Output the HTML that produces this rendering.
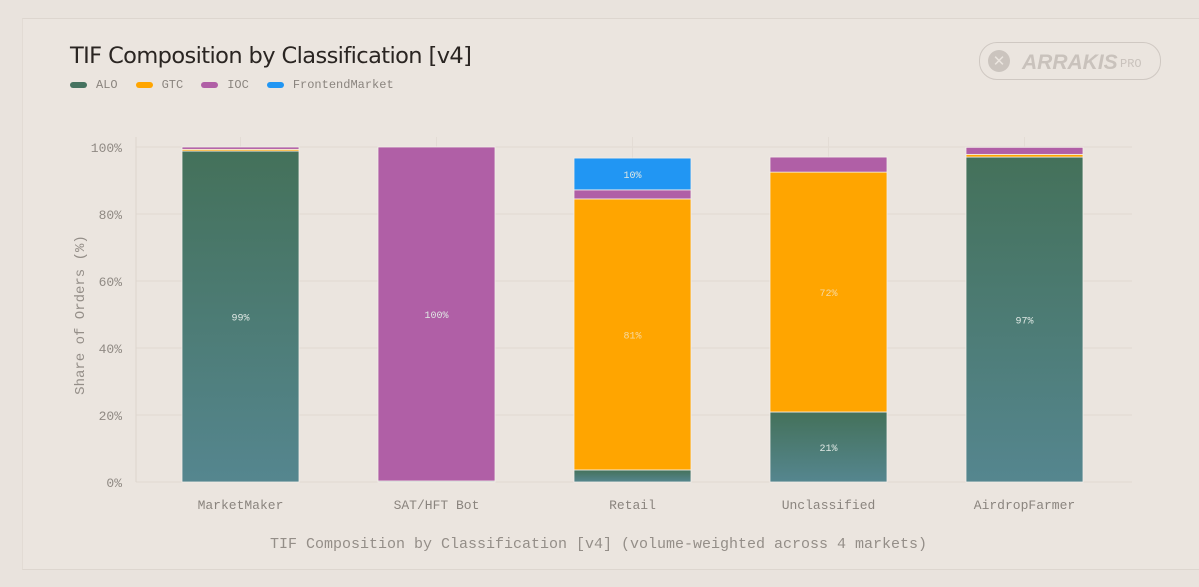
<!DOCTYPE html>
<html><head><meta charset="utf-8"><style>
html,body{margin:0;padding:0;background:#e9e3dd;width:1199px;height:587px;overflow:hidden}
.card{position:absolute;left:22px;top:18px;width:1200px;height:550px;border-top:1px solid #ddd6cf;border-left:1px solid #e2dbd4;border-bottom:1px solid #ddd6cf;background:#ebe5df}
.title{position:absolute;left:70px;top:43px;font:22.5px "DejaVu Sans","Liberation Sans",sans-serif;color:#2a2522;letter-spacing:-0.6px}
.legend{position:absolute;left:70px;top:78px;font:12px "Liberation Mono",monospace;color:#8a847e;display:flex;gap:18px}
.legend span{display:flex;align-items:center;gap:9px}
.legend i{display:inline-block;width:17px;height:6px;border-radius:3px}
.logo{position:absolute;left:979px;top:42px;width:180px;height:36px;border:1px solid #cfc8c2;border-radius:18px}
</style></head><body>
<div class="card"></div>
<div class="title">TIF Composition by Classification [v4]</div>
<div class="legend">
<span><i style="background:#467360"></i>ALO</span>
<span><i style="background:#ffa500"></i>GTC</span>
<span><i style="background:#b05fa6"></i>IOC</span>
<span><i style="background:#2196f3"></i>FrontendMarket</span>
</div>
<div class="logo">
<svg width="180" height="36"><circle cx="19" cy="18" r="11" fill="#cbc4be"/><text x="19" y="23" text-anchor="middle" font-family="Liberation Sans" font-size="15" fill="#ebe5df">✕</text>
<text x="42" y="26" font-family="Liberation Sans" font-weight="bold" font-style="italic" font-size="21" fill="#c9c2bc">ARRAKIS</text>
<text x="140" y="24" font-family="Liberation Mono" font-size="12" fill="#c9c2bc">PRO</text></svg>
</div>
<svg id="chart" width="1199" height="587" style="position:absolute;left:0;top:0">
<defs><linearGradient id="aloGrad" x1="0" y1="0" x2="0" y2="1"><stop offset="0" stop-color="#44715a"/><stop offset="1" stop-color="#55868f"/></linearGradient></defs>
</svg>
<script>
const categories=["MarketMaker","SAT/HFT Bot","Retail","Unclassified","AirdropFarmer"];
const alo=[98.8,0.3,3.6,20.9,97.0];
const gtc=[0.5,0,80.9,71.6,0.8];
const ioc=[0.7,99.7,2.7,4.5,2.1];
const fe=[0,0,9.5,0,0];
const yTicks=[0,20,40,60,80,100];
const ns="http://www.w3.org/2000/svg";
const svg=document.getElementById("chart");
const px0=136,px1=1132;
const x0=142.5,x1=1122.5,y0=482,y1=147;
const band=(x1-x0)/categories.length, bw=117;
const yS=v=>y0-(v/100)*(y0-y1);
const xC=i=>x0+band*(i+0.5);
function mk(t,a){const e=document.createElementNS(ns,t);for(const k in a)e.setAttribute(k,a[k]);svg.appendChild(e);return e;}
yTicks.forEach(t=>{
 const l=mk("line",{x1:px0,x2:px1,y1:yS(t),y2:yS(t),stroke:"#e0d9d2","stroke-width":1});
 
 
 const tx=mk("text",{x:122,y:yS(t)+5,"text-anchor":"end","font-family":"Liberation Mono","font-size":13,fill:"#8f8983"});
 tx.textContent=t+"%";
 
 
});
categories.forEach((c,i)=>{
 const g=mk("line",{x1:xC(i),x2:xC(i),y1:y1-10,y2:y0,stroke:"#e3dcd5","stroke-width":1});
 
 
});
const axL=mk("line",{x1:px0,x2:px0,y1:y1-10,y2:y0,stroke:"#ddd5ce"});


const series=[["alo",alo,"url(#aloGrad)"],["gtc",gtc,"#ffa500"],["ioc",ioc,"#b05fa6"],["frontendmarket",fe,"#2196f3"]];
categories.forEach((c,i)=>{
 let cum=0;
 series.forEach(([n,arr,col])=>{
  const v=arr[i]; if(v<=0){return;}
  const yt=yS(cum+v), yb=yS(cum);
  const r=mk("rect",{x:xC(i)-bw/2,y:yt,width:bw,height:yb-yt,fill:col,stroke:"#f3eee9","stroke-width":0.8});
  
  
  if(v>=9){
   const t=mk("text",{x:xC(i),y:(yt+yb)/2+4,"text-anchor":"middle","font-family":"Liberation Mono","font-size":10,fill:n==="gtc"?"#f7d9a0":"#dfe8e4"});
   t.textContent=Math.round(v)+"%";
   
   
  }
  cum+=v;
 });
 const xl=mk("text",{x:xC(i),y:509,"text-anchor":"middle","font-family":"Liberation Mono","font-size":13,fill:"#8a847e"});
 xl.textContent=c;
 
 
});
const xt=mk("text",{x:(x0+x1)/2-34,y:548,"text-anchor":"middle","font-family":"Liberation Mono","font-size":15,fill:"#948e88"});
xt.textContent="TIF Composition by Classification [v4] (volume-weighted across 4 markets)";


const yt=mk("text",{x:0,y:0,"text-anchor":"middle","font-family":"Liberation Mono","font-size":14,fill:"#948e88",transform:"translate(84,315) rotate(-90)"});
yt.textContent="Share of Orders (%)";


</script>
</body></html>
